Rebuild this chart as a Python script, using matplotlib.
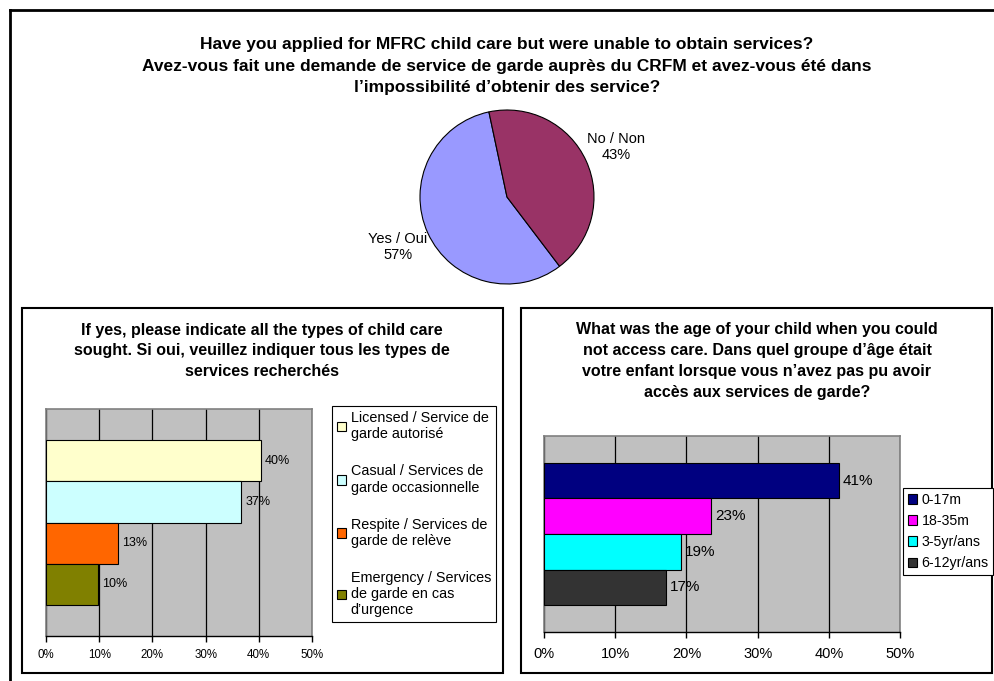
import matplotlib.pyplot as plt
from matplotlib.lines import Line2D
from matplotlib.patches import Rectangle, Patch

plt.rcParams['font.family'] = ['Liberation Sans', 'DejaVu Sans']

# Pie: applied but could not obtain services
pie_labels = ['Yes / Oui', 'No / Non']
pie_values = [57, 43]
pie_colors = ['#9999FF', '#993366']

# Types of child care sought
type_labels = ['Licensed / Service de\ngarde autorisé',
               'Casual / Services de\ngarde occasionnelle',
               'Respite / Services de\ngarde de relève',
               'Emergency / Services\nde garde en cas\nd\u2019urgence']
type_values = [40.4, 36.7, 13.5, 9.7]
type_text = ['40%', '37%', '13%', '10%']
type_colors = ['#FFFFCC', '#CCFFFF', '#FF6600', '#808000']

# Age of child
age_labels = ['0-17m', '18-35m', '3-5yr/ans', '6-12yr/ans']
age_values = [41.4, 23.5, 19.2, 17.1]
age_text = ['41%', '23%', '19%', '17%']
age_colors = ['#000080', '#FF00FF', '#00FFFF', '#333333']

W, H = 995, 681
fig = plt.figure(figsize=(W / 100, H / 100), dpi=100)


def fx(x):
    return x / W


def fy(y):
    return 1 - y / H


# outer frame (only top and left visible)
fig.add_artist(Line2D([fx(10), 1], [fy(10), fy(10)], color='black', lw=2))
fig.add_artist(Line2D([fx(10), fx(10)], [fy(10), 0], color='black', lw=2))
# panel boxes
fig.add_artist(Rectangle((fx(22), fy(673)), fx(503 - 22), (673 - 308) / H,
                         fill=False, ec='black', lw=1.5))
fig.add_artist(Rectangle((fx(521), fy(673)), fx(992 - 521), (673 - 308) / H,
                         fill=False, ec='black', lw=1.5))

# ---- pie ----
fig.text(fx(507), fy(66),
         'Have you applied for MFRC child care but were unable to obtain services?\n'
         'Avez-vous fait une demande de service de garde auprès du CRFM et avez-vous été dans\n'
         'l\u2019impossibilité d\u2019obtenir des service?',
         ha='center', va='center', fontsize=12.5, fontweight='bold', linespacing=1.55)

cx, cy, r = 507, 197, 87
axp = fig.add_axes([fx(cx - r), fy(cy + r), 2 * r / W, 2 * r / H])
labs = [f'{l}\n{v}%' for l, v in zip(pie_labels, pie_values)]
wedges, texts = axp.pie(pie_values, colors=pie_colors, startangle=-52.8,
                        counterclock=False, labels=labs, labeldistance=1.38,
                        wedgeprops=dict(edgecolor='black', linewidth=0.8),
                        textprops=dict(fontsize=10.5, ha='center', va='center',
                                       linespacing=1.25))
for t in texts:
    t.set_ha('center')
axp.set_xlim(-1, 1)
axp.set_ylim(-1, 1)


def bar_panel(ax, values, colors, texts, fs_lab, fs_tick, pad, tpad):
    n = len(values)
    ys = list(range(n))
    ax.set_facecolor('#C0C0C0')
    ax.barh(ys, values, height=1.0, color=colors, edgecolor='black', linewidth=0.8, zorder=3)
    for y, v, t in zip(ys, values, texts):
        ax.annotate(t, (v, y), xytext=(pad, 0), textcoords='offset points',
                    va='center', ha='left', fontsize=fs_lab, zorder=4)
    ax.set_xlim(0, 50)
    ax.set_ylim(n - 0.5 + 0.76, -0.5 - 0.76)
    ax.set_xticks([0, 10, 20, 30, 40, 50])
    ax.set_xticklabels(['0%', '10%', '20%', '30%', '40%', '50%'], fontsize=fs_tick)
    ax.set_yticks([])
    ax.grid(axis='x', color='black', lw=0.9, zorder=1)
    for s in ['top', 'right', 'left']:
        ax.spines[s].set_color('#808080')
        ax.spines[s].set_linewidth(1.2)
    ax.spines['bottom'].set_color('black')
    ax.spines['bottom'].set_linewidth(1)
    ax.tick_params(axis='x', length=4, width=1, direction='out', pad=tpad)


# ---- left bar panel ----
fig.text(fx(262), fy(351),
         'If yes, please indicate all the types of child care\n'
         'sought. Si oui, veuillez indiquer tous les types de\n'
         'services recherchés',
         ha='center', va='center', fontsize=11.5, fontweight='bold', linespacing=1.46)
axl = fig.add_axes([fx(46), fy(636), (312 - 46) / W, (636 - 409) / H])
bar_panel(axl, type_values, type_colors, type_text, 9, 8.3, 3, 5)
hl = [Patch(fc=c, ec='black', lw=0.8) for c in type_colors]
fig.legend(hl, type_labels, loc='upper left', bbox_to_anchor=(fx(332), fy(406)),
           fontsize=10.4, frameon=True, fancybox=False, edgecolor='black',
           handlelength=0.65, handleheight=0.65, handletextpad=0.3,
           labelspacing=1.6, borderpad=0.35, borderaxespad=0,
           framealpha=1).get_frame().set_linewidth(0.8)

# ---- right bar panel ----
fig.text(fx(757), fy(361),
         'What was the age of your child when you could\n'
         'not access care. Dans quel groupe d\u2019âge était\n'
         'votre enfant lorsque vous n\u2019avez pas pu avoir\n'
         'accès aux services de garde?',
         ha='center', va='center', fontsize=11.5, fontweight='bold', linespacing=1.48)
axr = fig.add_axes([fx(544), fy(632), (900 - 544) / W, (632 - 436) / H])
bar_panel(axr, age_values, age_colors, age_text, 11, 10.5, 3, 7)
hr = [Patch(fc=c, ec='black', lw=0.8) for c in age_colors]
fig.legend(hr, age_labels, loc='upper left', bbox_to_anchor=(fx(903), fy(488)),
           fontsize=10.2, frameon=True, fancybox=False, edgecolor='black',
           handlelength=0.65, handleheight=0.65, handletextpad=0.3,
           labelspacing=0.5, borderpad=0.35, borderaxespad=0,
           framealpha=1).get_frame().set_linewidth(0.8)

fig.savefig('out.png', dpi=100)
